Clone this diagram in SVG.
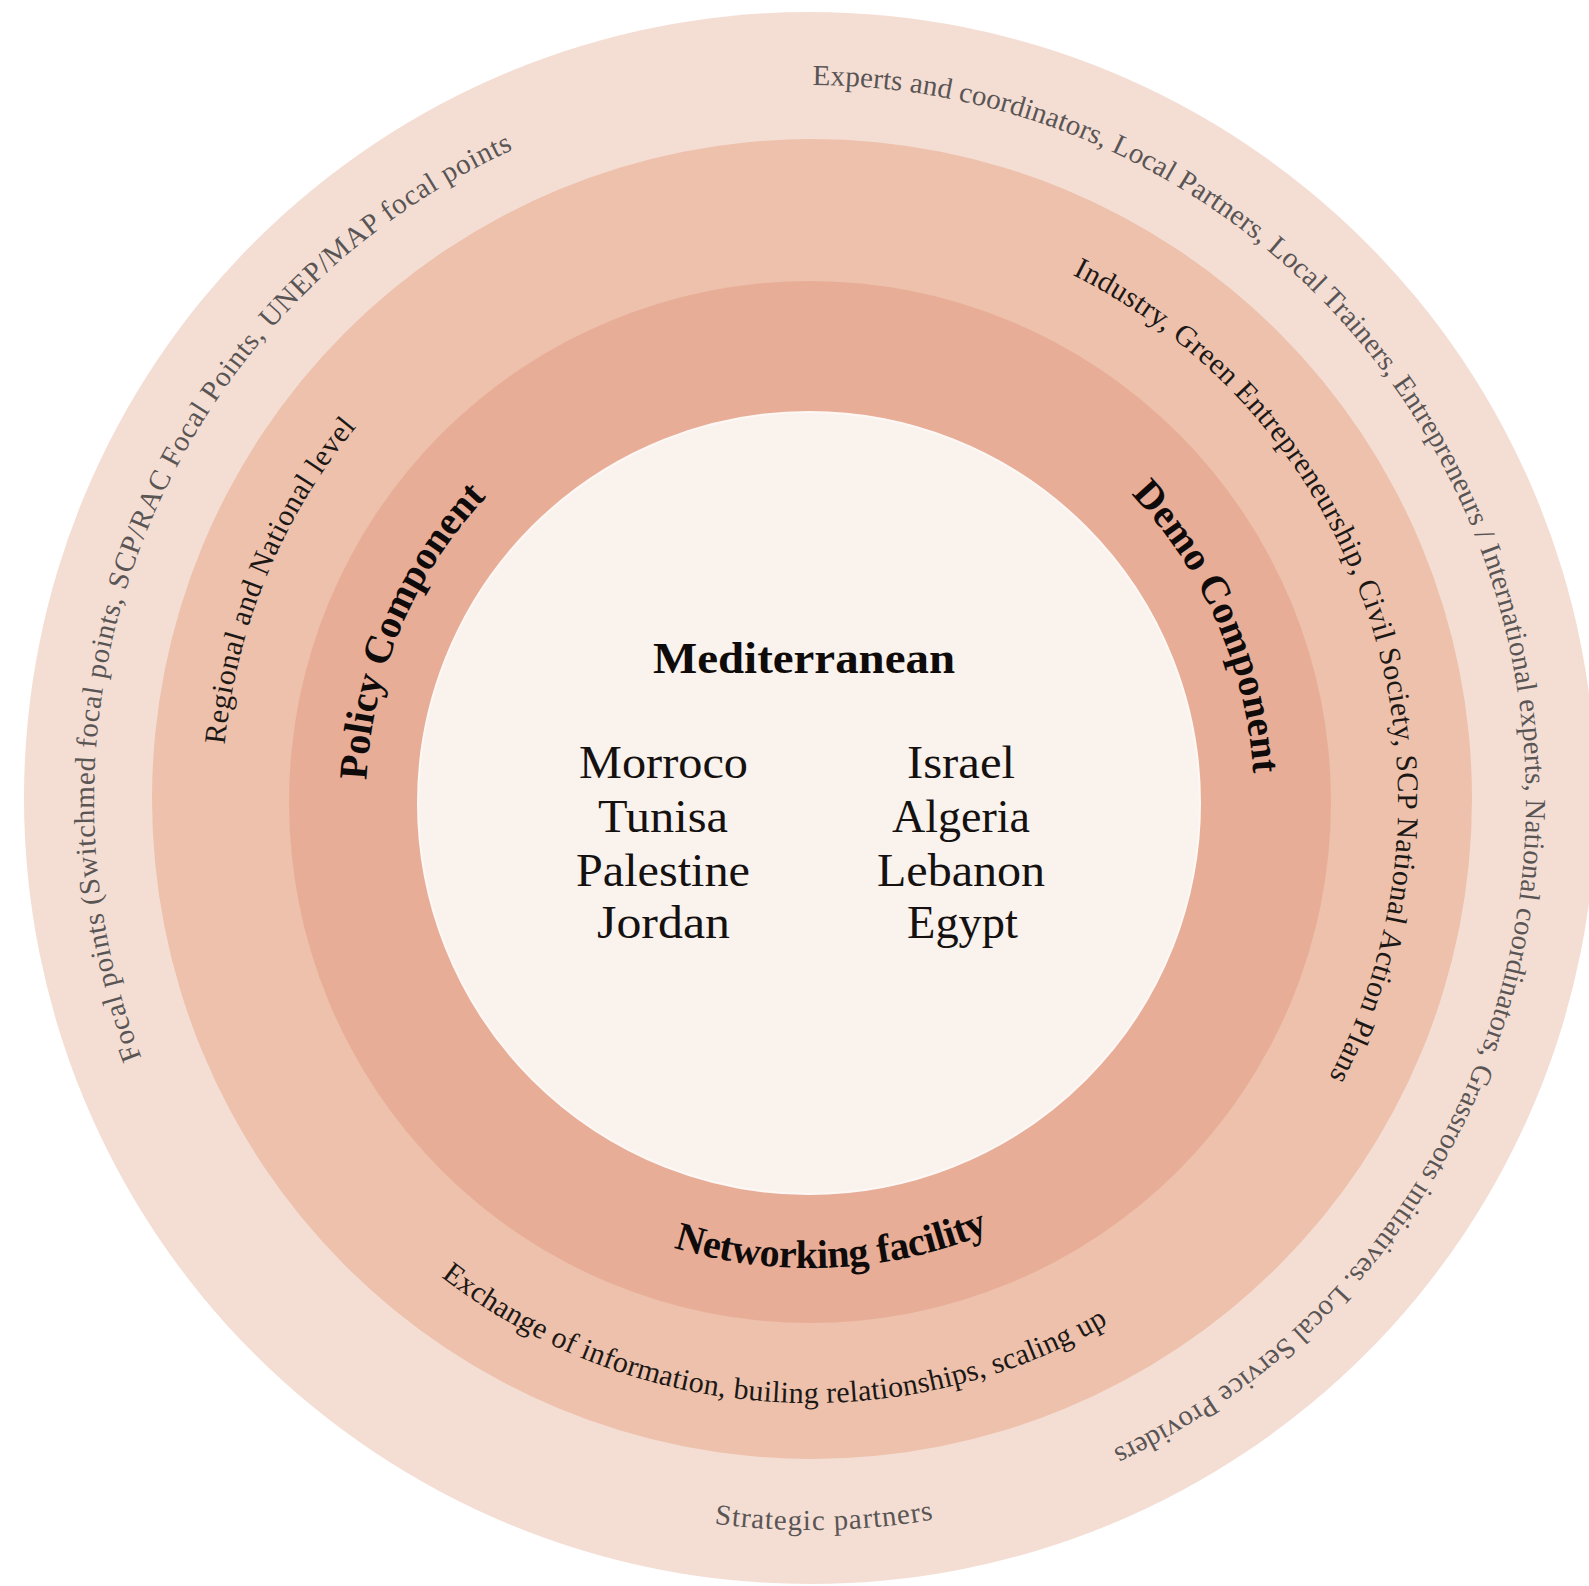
<svg xmlns="http://www.w3.org/2000/svg" width="1589" height="1586" viewBox="0 0 1589 1586">
<style>
  .ser { font-family: "Liberation Serif", "Times New Roman", serif; }
  .outer-t { font-size: 29px; fill: #5a5555; }
  .mid-t { font-size: 30px; fill: #1c1816; }
  .bold-t { font-size: 40px; font-weight: bold; fill: #0e0b0a; }
  .title { font-size: 45px; font-weight: bold; fill: #0e0b0a; }
  .country { font-size: 46px; fill: #141110; }
</style>
<defs>
  <path id="pA" d="M141.6,1057.6 A716,716 0 0 1 513.1,149.5"/>
  <path id="pB" d="M812.5,85.0 A716,716 0 0 1 1112.6,1449.9"/>
  <path id="pC" d="M714.3,1523.7 A729,729 0 0 0 933.4,1519.5"/>
  <path id="pD" d="M224.7,744.6 A588,588 0 0 1 356.3,427.0"/>
  <path id="pF" d="M1072.4,274.8 A588,588 0 0 1 1329.2,1077.0"/>
  <path id="pG" d="M441.0,1276.7 A602,602 0 0 0 1108.3,1323.9"/>
  <path id="pH" d="M673.5,1247.6 A467,467 0 0 0 988.7,1232.5"/>
  <path id="pI" d="M366.5,780.1 A444,444 0 0 1 486.3,497.1"/>
  <path id="pJ" d="M1131.0,494.2 A444,444 0 0 1 1253.1,773.1"/>
</defs>
<rect width="1589" height="1586" fill="#ffffff"/>

<g id="ring-outer">
  <circle cx="810" cy="798" r="786" fill="#f4ded4"/>
</g>
<g id="ring-second">
  <circle cx="812" cy="799" r="660" fill="#edc1ac"/>
</g>
<g id="ring-third">
  <circle cx="810" cy="802" r="521" fill="#e8ad97"/>
</g>
<g id="core">
  <circle cx="809" cy="803" r="391" fill="#faf2ed" stroke="#fdf8f5" stroke-width="2"/>
</g>

<g id="outer-labels" class="ser outer-t">
  <text><textPath href="#pA" textLength="1081">Focal points (Switchmed focal points, SCP/RAC Focal Points, UNEP/MAP focal points</textPath></text>
  <text><textPath href="#pB" textLength="1934">Experts and coordinators, Local Partners, Local Trainers, Entrepreneurs / International experts, National coordinators, Grassroots initiatives. Local Service Providers</textPath></text>
  <text><textPath href="#pC" textLength="220">Strategic partners</textPath></text>
</g>

<g id="second-labels" class="ser mid-t">
  <text><textPath href="#pD" textLength="349">Regional and National level</textPath></text>
  <text><textPath href="#pF" textLength="939">Industry, Green Entrepreneurship, Civil Society, SCP National Action Plans</textPath></text>
  <text><textPath href="#pG" textLength="709">Exchange of information, builing relationships, scaling up</textPath></text>
</g>

<g id="component-labels" class="ser bold-t">
  <text><textPath href="#pI" textLength="314">Policy Component</textPath></text>
  <text><textPath href="#pJ" textLength="311">Demo Component</textPath></text>
  <text><textPath href="#pH" textLength="322">Networking facility</textPath></text>
</g>

<g id="core-labels" class="ser">
  <text class="title" x="653" y="673" textLength="302" lengthAdjust="spacingAndGlyphs">Mediterranean</text>
  <g class="country">
    <text x="579" y="778" textLength="169" lengthAdjust="spacingAndGlyphs">Morroco</text>
    <text x="598" y="832" textLength="130" lengthAdjust="spacingAndGlyphs">Tunisa</text>
    <text x="576" y="886" textLength="174" lengthAdjust="spacingAndGlyphs">Palestine</text>
    <text x="597" y="938" textLength="133" lengthAdjust="spacingAndGlyphs">Jordan</text>
    <text x="907" y="778" textLength="108" lengthAdjust="spacingAndGlyphs">Israel</text>
    <text x="892" y="832" textLength="138" lengthAdjust="spacingAndGlyphs">Algeria</text>
    <text x="877" y="886" textLength="168" lengthAdjust="spacingAndGlyphs">Lebanon</text>
    <text x="907" y="938" textLength="111" lengthAdjust="spacingAndGlyphs">Egypt</text>
  </g>
</g>
</svg>
